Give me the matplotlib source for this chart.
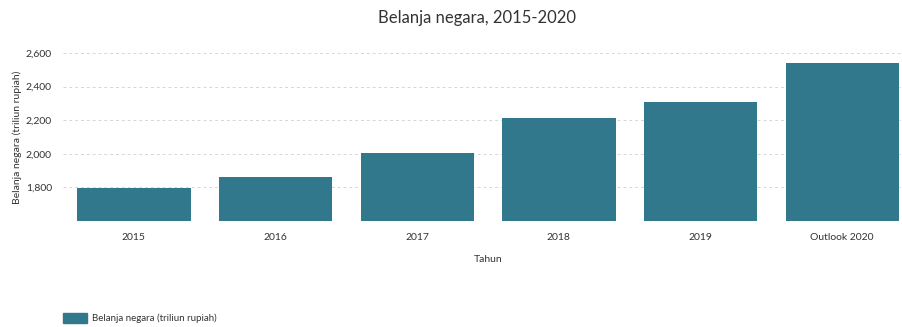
import matplotlib.pyplot as plt
from matplotlib.patches import Patch

plt.rcParams['font.family'] = ['Lato', 'DejaVu Sans']

tahun = ["2015", "2016", "2017", "2018", "2019", "Outlook 2020"]
belanja = [1797, 1864, 2007, 2213, 2309, 2540]
y_ticks = [1800, 2000, 2200, 2400, 2600]

bar_color = "#32788c"
text_color = "#333333"
grid_color = "#d6d6d6"

fig = plt.figure(figsize=(9.02, 3.27), dpi=100)
ax = fig.add_axes([63 / 902, 1 - 221 / 327, 850 / 902, 168 / 327])

ax.bar(tahun, belanja, width=0.8, color=bar_color, zorder=3)
ax.set_ylim(1600, 2600)
ax.set_xlim(-0.5, len(tahun) - 0.5)
ax.set_yticks(y_ticks)
ax.set_yticklabels([f"{v:,}" for v in y_ticks])

ax.grid(axis="y", color=grid_color, linestyle=(0, (3, 3)), linewidth=0.7, zorder=0)
ax.axhline(1600, color=grid_color, linestyle=(0, (3, 3)), linewidth=0.7, zorder=0)
for s in ax.spines.values():
    s.set_visible(False)
ax.tick_params(length=0, labelsize=7.5, colors=text_color)
ax.tick_params(axis="y", pad=8)
ax.tick_params(axis="x", pad=9)

ax.set_xlabel("Tahun", fontsize=7.5, color=text_color, labelpad=9)
ax.set_ylabel("Belanja negara (triliun rupiah)", fontsize=7.5, color=text_color, labelpad=3)
fig.text(477 / 902, 1 - 18 / 327, "Belanja negara, 2015-2020", ha="center", va="center",
         fontsize=12, color=text_color)

handle = Patch(color=bar_color)
fig.legend([handle], ["Belanja negara (triliun rupiah)"], loc="center left",
           bbox_to_anchor=(63 / 902, 1 - 318 / 327), borderaxespad=0, borderpad=0,
           frameon=False, fontsize=7, handlelength=2.5, handleheight=1.3,
           handletextpad=0.5, labelcolor=text_color)

fig.savefig("out.png", dpi=100)
